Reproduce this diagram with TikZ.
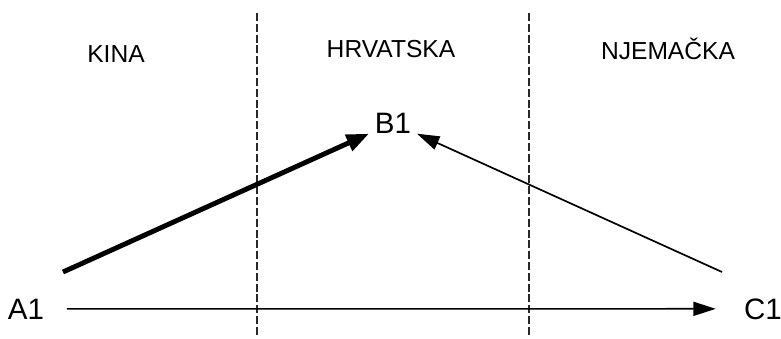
\documentclass[tikz,border=0pt]{standalone}
\usepackage{fontspec}
\setmainfont{Liberation Sans}
\usepackage{tikz}
\usetikzlibrary{arrows.meta, positioning, calc}
\definecolor{crtica}{RGB}{40,40,40}
\tikzset{
  granica/.style={crtica, line width=1pt, dash pattern=on 5.7pt off 2pt},
  drzava/.style={anchor=base, font=\fontsize{17.5}{20}\selectfont},
  tocka/.style={anchor=base, inner sep=4pt, font=\fontsize{21}{24}\selectfont},
  tanka/.style={line width=1.2pt, -{Triangle[length=16pt,width=10pt]}},
  debela/.style={line width=3.5pt, -{Triangle[length=16pt,width=12pt]}}
}

\begin{document}
\begin{tikzpicture}
  \useasboundingbox (0,0) rectangle (19.525,8.45);
  % borders
  \draw[granica] (6.425,8.125) -- (6.425,0.05);
  \draw[granica] (13.225,8.125) -- (13.225,0.05);
  % countries
  \node[drzava] (kina) at (2.9,6.9) {KINA};
  \node[drzava] (hrvatska) at (9.775,7.0) {HRVATSKA};
  \node[drzava] (njemacka) at (16.7,6.975) {NJEMAČKA};
  % points
  \node[tocka] (a1) at (0.65,0.475) {A1};
  \node[tocka] (b1) at (9.825,5.125) {B1};
  \node[tocka] (c1) at (19.075,0.475) {C1};
  \coordinate (pocA) at (1.575,1.65);
  \coordinate (pocC) at (18.05,1.65);
  % flows
  \draw[tanka, shorten <=12pt, shorten >=16pt] (a1) -- (c1);
  \draw[debela] (pocA) -- (b1);
  \draw[tanka] (pocC) -- (b1);
\end{tikzpicture}
\end{document}
